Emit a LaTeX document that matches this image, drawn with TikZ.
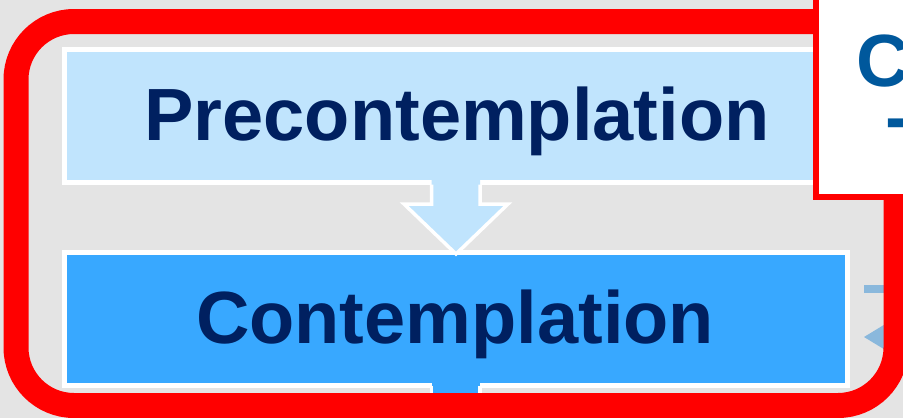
\documentclass[tikz,border=0pt]{standalone}
\usepackage{fontspec}
\setmainfont{Liberation Sans}
\definecolor{bg}{HTML}{E4E4E4}
\definecolor{pale}{HTML}{C0E4FD}
\definecolor{mid}{HTML}{38A8FF}
\definecolor{navy}{HTML}{002060}
\definecolor{callblue}{HTML}{00589C}
\definecolor{grayblue}{HTML}{8AB8DC}
\begin{document}
\begin{tikzpicture}[x=1pt,y=-1pt,
  stagebox/.style={draw=white,line width=5pt,minimum width=783pt,inner sep=0pt,outer sep=0pt},
  stagetext/.style={font=\fontsize{74}{80}\selectfont\bfseries,text=navy,inner sep=0pt,anchor=base},
  arrowedge/.style={draw=white,line width=3.5pt,line join=miter}]
\useasboundingbox (0,0) rectangle (903,418);
\clip (0,0) rectangle (903,418);
\fill[bg] (0,0) rectangle (903,418);
% gray-blue marks at right
\fill[grayblue] (864,285) rectangle (892,293);
\fill[grayblue] (864,337) -- (892,320) -- (892,354) -- cycle;
% stage boxes
\node[stagebox,fill=pale,minimum height=133.5pt] (pre) at (456,115.75) {};
\node[stagebox,fill=mid,minimum height=133pt] (con) at (456,319) {};
% arrow between boxes
\fill[pale] (431.5,180) -- (431.5,204) -- (404,204) -- (456,255) -- (508,204) -- (480,204) -- (480,180) -- cycle;
\draw[arrowedge] (431.5,184.5) -- (431.5,204) -- (404,204) -- (456,254) -- (508,204) -- (480,204) -- (480,184.5);
% stem below contemplation
\fill[mid] (431.5,383) rectangle (480,410);
\draw[arrowedge] (431.5,385.5) -- (431.5,410) (480,385.5) -- (480,410);
% texts
\node[stagetext] (pret) at (457,140) {Precontemplation};
\node[stagetext] (cont) at (455,343) {Contemplation};
% red frame
\draw[red,line width=25pt,rounded corners=58pt] (16,21.5) rectangle (896,405.5);
% callout
\draw[red,line width=6pt,fill=white] (816,-10) rectangle (915,197);
\node[stagetext,text=callblue,anchor=base west] (callc) at (856,86) {C};
\node[stagetext,text=callblue,anchor=base west] (calld) at (885,142) {-};
\end{tikzpicture}
\end{document}
